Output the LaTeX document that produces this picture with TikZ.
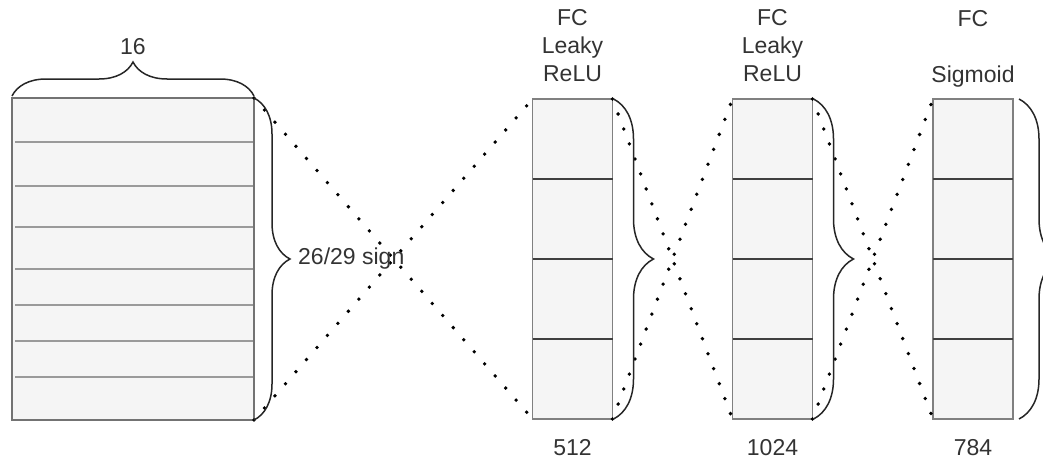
\documentclass[tikz,border=0pt]{standalone}
\usepackage{fontspec}
\setmainfont{Liberation Sans}
\usetikzlibrary{positioning,calc,decorations.pathreplacing}
\definecolor{cellfill}{HTML}{F5F5F5}
\definecolor{cellline}{HTML}{808080}
\definecolor{rowline}{HTML}{9A9A9A}
\definecolor{txtgray}{HTML}{333333}
\begin{document}
\begin{tikzpicture}[x=1pt, y=-1pt,
  layer/.style={draw=cellline, line width=1.5pt, fill=cellfill, minimum width=80pt, minimum height=320pt, inner sep=0pt, outer sep=0pt},
  dots/.style={line width=3.8pt, line cap=round, dash pattern=on 0pt off 16pt},
  brc/.style={decorate, decoration={brace, amplitude=#1}, line width=1.5pt, draw=black!85},
  lbl/.style={font=\fontsize{23}{28}\selectfont, text=txtgray, inner sep=0pt, align=center}]
\useasboundingbox (0,0) rectangle (1043,460);
\clip (0,0) rectangle (1043,460);

% input block
\node[layer, draw=black!55, minimum width=242pt, minimum height=322pt] (inp) at (133,259) {};
\foreach \y in {142,186,227,269,305,341,377}
  \draw[rowline, line width=1.5pt] (15,\y) -- (253,\y);

% fully connected layers
\node[layer] (fca) at (572.5,259) {};
\node[layer] (fcb) at (772.5,259) {};
\node[layer] (fcc) at (973,259) {};
\foreach \l in {fca,fcb,fcc}
  \foreach \k in {1,2,3}
    \draw[black!75, line width=1.5pt] ($(\l.north west)!\k/4!(\l.south west)$) -- ($(\l.north east)!\k/4!(\l.south east)$);

% dotted links
\draw[dots] (inp.north east) -- (fca.south west);
\draw[dots] (inp.south east) -- (fca.north west);
\draw[dots] (fca.north east) -- (fcb.south west);
\draw[dots] (fca.south east) -- (fcb.north west);
\draw[dots] (fcb.north east) -- (fcc.south west);
\draw[dots] (fcb.south east) -- (fcc.north west);

% braces
\draw[brc=34] ([yshift=2pt]inp.north west) -- ([yshift=2pt]inp.north east);
\draw[brc=36] (inp.north east) -- (inp.south east);
\draw[brc=40] ([xshift=1pt]fca.north east) -- ([xshift=1pt]fca.south east);
\draw[brc=40] ([xshift=1pt]fcb.north east) -- ([xshift=1pt]fcb.south east);
\draw[brc=40] ([xshift=6pt]fcc.north east) -- ([xshift=6pt]fcc.south east);

% labels
\node[lbl, above=43pt of inp] (wdt) {16};
\node[lbl, right=44pt of inp] (sgn) {26/29 sign};
\node[lbl, above=17pt of fca] (ta) {FC\\Leaky\\ReLU};
\node[lbl, above=17pt of fcb] (tb) {FC\\Leaky\\ReLU};
\node[lbl, above=12pt of fcc] (tc) {FC\\[28pt]Sigmoid};
\node[lbl, below=20pt of fca] (na) {512};
\node[lbl, below=20pt of fcb] (nb) {1024};
\node[lbl, below=20pt of fcc] (nc) {784};
\end{tikzpicture}
\end{document}
